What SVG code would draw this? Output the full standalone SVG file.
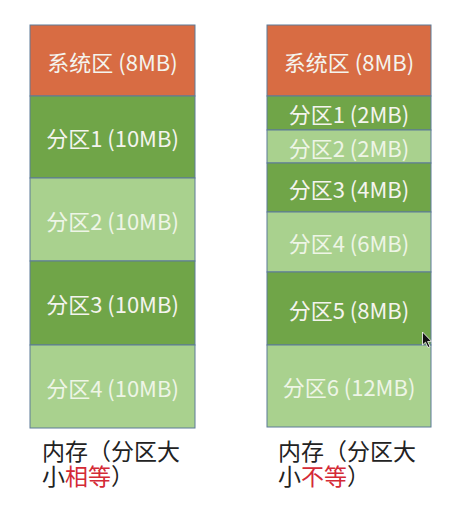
<svg xmlns="http://www.w3.org/2000/svg" width="471" height="521" viewBox="0 0 471 521">
  <style>
    .blk { stroke: #5d7b98; stroke-width: 1; }
    .sys { fill: #d86c43; }
    .dk { fill: #70a548; }
    .lt { fill: #a9d18e; }
    .lbl { font-family: "Noto Sans CJK SC", "Noto Sans", sans-serif; font-size: 22px; fill: #f4f4ee; text-anchor: middle; dominant-baseline: central; }
    .lbl.on-lt { fill: #eef5e6; }
    .cap { font-family: "Noto Sans CJK SC", sans-serif; font-size: 23px; fill: #222; }
    .red { fill: #d42a36; }
  </style>
  <rect width="471" height="521" fill="#ffffff"/>

  <!-- fixed partitions, equal size -->
  <g id="equal-memory">
    <g id="eq-sys"><rect class="blk sys" x="30" y="25" width="165" height="71"/><text class="lbl" x="112.5" y="60.5">系统区 (8MB)</text></g>
    <g id="eq-p1"><rect class="blk dk" x="30" y="96" width="165" height="82"/><text class="lbl" x="112.5" y="137">分区1 (10MB)</text></g>
    <g id="eq-p2"><rect class="blk lt" x="30" y="178" width="165" height="83"/><text class="lbl on-lt" x="112.5" y="219.5">分区2 (10MB)</text></g>
    <g id="eq-p3"><rect class="blk dk" x="30" y="261" width="165" height="84"/><text class="lbl" x="112.5" y="303">分区3 (10MB)</text></g>
    <g id="eq-p4"><rect class="blk lt" x="30" y="345" width="165" height="83"/><text class="lbl on-lt" x="112.5" y="386.5">分区4 (10MB)</text></g>
    <text class="cap" x="42" y="460">内存（分区大<tspan x="42" dy="25">小</tspan><tspan class="red">相等</tspan><tspan>）</tspan></text>
  </g>

  <!-- fixed partitions, unequal size -->
  <g id="unequal-memory">
    <g id="ne-sys"><rect class="blk sys" x="267" y="25" width="164" height="71"/><text class="lbl" x="349" y="60.5">系统区 (8MB)</text></g>
    <g id="ne-p1"><rect class="blk dk" x="267" y="96" width="164" height="34"/><text class="lbl" x="349" y="113">分区1 (2MB)</text></g>
    <g id="ne-p2"><rect class="blk lt" x="267" y="130" width="164" height="33"/><text class="lbl on-lt" x="349" y="146.5">分区2 (2MB)</text></g>
    <g id="ne-p3"><rect class="blk dk" x="267" y="163" width="164" height="49"/><text class="lbl" x="349" y="187.5">分区3 (4MB)</text></g>
    <g id="ne-p4"><rect class="blk lt" x="267" y="212" width="164" height="60"/><text class="lbl on-lt" x="349" y="242">分区4 (6MB)</text></g>
    <g id="ne-p5"><rect class="blk dk" x="267" y="272" width="164" height="73"/><text class="lbl" x="349" y="308.5">分区5 (8MB)</text></g>
    <g id="ne-p6"><rect class="blk lt" x="267" y="345" width="164" height="82"/><text class="lbl on-lt" x="349" y="386">分区6 (12MB)</text></g>
    <text class="cap" x="278" y="460">内存（分区大<tspan x="278" dy="25">小</tspan><tspan class="red">不等</tspan><tspan>）</tspan></text>
  </g>

  <!-- mouse pointer -->
  <path d="M422.5 332 L422.5 345 L425.5 342.2 L428 347.5 L430 346.6 L427.6 341.5 L431.5 341.3 Z" fill="#111" stroke="#fff" stroke-width="0.8"/>
  <g id="connectors"/>
</svg>
